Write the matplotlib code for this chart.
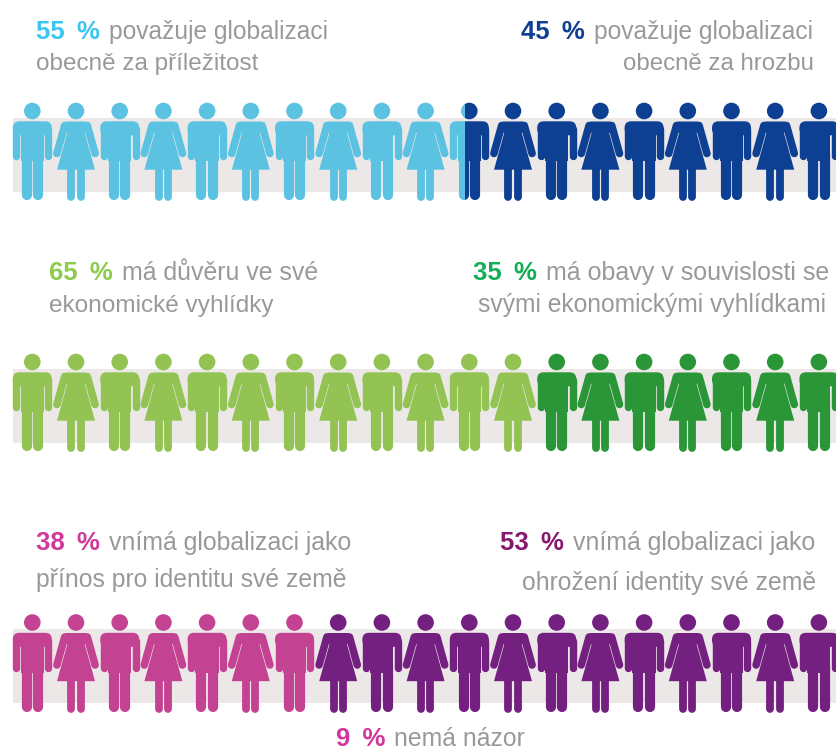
import matplotlib
matplotlib.use('Agg')
import matplotlib.pyplot as plt
from matplotlib.patches import Circle, Polygon, Rectangle, FancyBboxPatch
from matplotlib.lines import Line2D

plt.rcParams['font.family'] = ['Liberation Sans', 'DejaVu Sans']

# how many of the 19 figures get the first colour in each row
first_share = [10.4, 12, 7]
light_colors = ['#5BC2E2', '#92C353', '#C44292']
dark_colors = ['#0D3F92', '#2A9638', '#742080']
pct_colors = ['#3CC4F2', '#0D3F92', '#8CCB4B', '#12AE55', '#D0399B', '#85196F']
row_tops = [103, 354, 614.5]
band_tops = [118, 369, 629.3]

# (x, baseline y, pct text, colour index, gray text, gray x, gray size)
labels = [
    (36, 39, '55 \u2009%', 0, 'považuje globalizaci', 109, 17.65),
    (521, 39, '45 \u2009%', 1, 'považuje globalizaci', 594, 17.65),
    (49, 280, '65 \u2009%', 2, 'má důvěru ve své', 122, 17.95),
    (473, 280, '35 \u2009%', 3, 'má obavy v souvislosti se', 546, 18),
    (36, 550, '38 \u2009%', 4, 'vnímá globalizaci jako', 109, 17.9),
    (500, 550, '53 \u2009%', 5, 'vnímá globalizaci jako', 573, 17.9),
    (336, 746, '9 \u2009%', 4, 'nemá názor', 394, 17.8),
]
second_lines = [
    (36, 70, 'left', 'obecně za příležitost', 17.5),
    (814, 70, 'right', 'obecně za hrozbu', 17.3),
    (49, 312, 'left', 'ekonomické vyhlídky', 17.55),
    (826, 312, 'right', 'svými ekonomickými vyhlídkami', 17.75),
    (36, 586.5, 'left', 'přínos pro identitu své země', 17.8),
    (816, 590, 'right', 'ohrožení identity své země', 17.8),
]

GRAY = '#999999'
BAND = '#ECE8E8'
STEP = 43.7
FIRST_X = 32.3
N_FIG = 19
PX = 0.72  # px to pt at dpi 100

fig = plt.figure(figsize=(8.37, 7.49), dpi=100)
ax = fig.add_axes([0, 0, 1, 1])
ax.set_xlim(0, 837)
ax.set_ylim(749, 0)
ax.axis('off')


def stroke(x, y, width, color):
    return Line2D(x, y, lw=width * PX, color=color, solid_capstyle='round')


def man(cx, top, color):
    parts = [Circle((cx, top + 8), 8.3, fc=color, ec='none')]
    parts.append(FancyBboxPatch((cx - 19.5, top + 18.3), 39, 14, boxstyle='round,pad=0,rounding_size=6.5',
                                fc=color, ec='none'))
    parts.append(Rectangle((cx - 11.6, top + 25), 23.2, 33, fc=color, ec='none'))
    for side in (-1, 1):
        parts.append(stroke([cx + side * 15.9, cx + side * 15.9], [top + 26, top + 53], 7.4, color))
        parts.append(stroke([cx + side * 5.7, cx + side * 5.7], [top + 50, top + 92.4], 10.2, color))
    return parts


def woman(cx, top, color):
    parts = [Circle((cx, top + 8), 8.3, fc=color, ec='none')]
    parts.append(Polygon([(cx - 10, top + 18.5), (cx + 10, top + 18.5), (cx + 14.5, top + 22), (cx + 11, top + 28),
                          (cx + 8.8, top + 30), (cx + 19, top + 66.7), (cx - 19, top + 66.7),
                          (cx - 8.8, top + 30), (cx - 11, top + 28), (cx - 14.5, top + 22)],
                         closed=True, fc=color, ec='none'))
    for side in (-1, 1):
        parts.append(stroke([cx + side * 11.3, cx + side * 19.1], [top + 22.5, top + 50.5], 7.6, color))
        parts.append(stroke([cx + side * 4.7, cx + side * 4.7], [top + 66, top + 94.4], 7.8, color))
    return parts


def draw_figure(i, top, color, clip=None):
    cx = FIRST_X + STEP * i
    parts = man(cx, top, color) if i % 2 == 0 else woman(cx, top, color)
    for p in parts:
        if isinstance(p, Line2D):
            ax.add_line(p)
        else:
            ax.add_patch(p)
        if clip is not None:
            p.set_clip_path(Rectangle((clip[0], top - 5), clip[1] - clip[0], 110, transform=ax.transData))


for r in range(3):
    ax.add_patch(Rectangle((13, band_tops[r]), 824, 74, fc=BAND, ec='none'))
    for i in range(N_FIG):
        left_edge = FIRST_X + STEP * i - 19.5
        if i + 1 <= first_share[r]:
            draw_figure(i, row_tops[r], light_colors[r])
        elif i >= first_share[r]:
            draw_figure(i, row_tops[r], dark_colors[r])
        else:
            # split figure, cut at the share boundary
            cut = left_edge + 39 * (first_share[r] - i)
            draw_figure(i, row_tops[r], light_colors[r], clip=(left_edge - 2, cut))
            draw_figure(i, row_tops[r], dark_colors[r], clip=(cut, left_edge + 41))

for x, y, pct, ci, txt, x2, size in labels:
    ax.text(x, y, pct, color=pct_colors[ci], fontsize=18.5, fontweight='bold', ha='left', va='baseline')
    ax.text(x2, y, txt, color=GRAY, fontsize=size, ha='left', va='baseline')

for x, y, ha, txt, size in second_lines:
    ax.text(x, y, txt, color=GRAY, fontsize=size, ha=ha, va='baseline')

fig.savefig('out.png', dpi=100)
